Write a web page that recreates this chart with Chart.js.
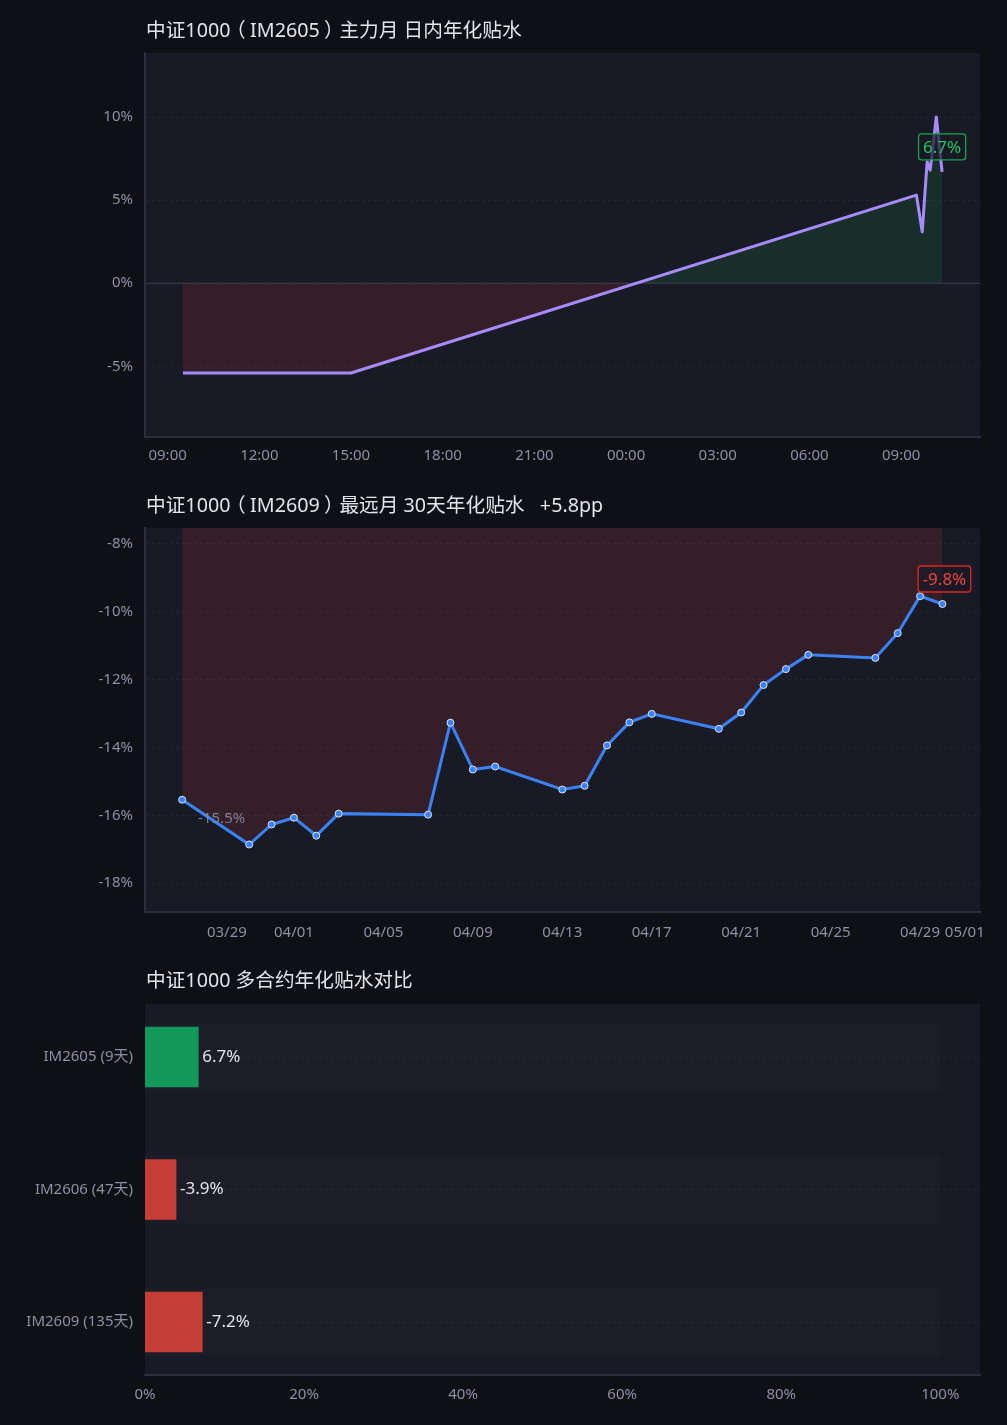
<!DOCTYPE html>
<html>
<head>
<meta charset="utf-8">
<title>中证1000 年化贴水</title>
<script src="https://cdn.jsdelivr.net/npm/chart.js"></script>
<style>
    body { margin: 0; background: #0f1015; width: 1007px; height: 1425px; overflow: hidden;
           font-family: "Noto Sans", "Noto Sans CJK SC", sans-serif; }
    .panel { position: relative; width: 1007px; height: 475px; }
    .panel h2 { position: absolute; left: 146px; top: 16px; margin: 0; font-size: 19.7px; font-weight: normal;
                color: #e2e4ea; white-space: pre; line-height: 28px; z-index: 2; }
    .po { position: relative; left: -0.22em; }
    .pc { position: relative; left: 0.22em; }
</style>
</head>
<body>
    <div class="panel"><h2>中证1000<span class="po">（</span>IM2605<span class="pc">）</span>主力月 日内年化贴水</h2><canvas id="intradayChart"></canvas></div>
    <div class="panel"><h2>中证1000<span class="po">（</span>IM2609<span class="pc">）</span>最远月 30天年化贴水   +5.8pp</h2><canvas id="farChart"></canvas></div>
    <div class="panel"><h2>中证1000 多合约年化贴水对比</h2><canvas id="compareChart"></canvas></div>
<script>
    // 主力月 日内 (小时, 跨日 +24)
    var intradayHours = [9.5, 15, 33.5, 33.69, 33.85, 33.95, 34.15, 34.34];
    var intradayBasis = [-5.4, -5.4, 5.3, 3.1, 7.3, 6.8, 10.0, 6.7];
    var hourTicks = [9, 12, 15, 18, 21, 24, 27, 30, 33];
    var basisTicks = [-5, 0, 5, 10];

    // 最远月 30天
    var farDates = ['03/27', '03/30', '03/31', '04/01', '04/02', '04/03', '04/07', '04/08', '04/09', '04/10',
                    '04/13', '04/14', '04/15', '04/16', '04/17', '04/20', '04/21', '04/22', '04/23', '04/24',
                    '04/27', '04/28', '04/29', '04/30'];
    var farBasis = [-15.54, -16.86, -16.27, -16.07, -16.6, -15.95, -15.98, -13.27, -14.65, -14.56,
                    -15.24, -15.13, -13.94, -13.26, -13.01, -13.45, -12.97, -12.16, -11.69, -11.27,
                    -11.36, -10.63, -9.54, -9.77];
    var dateTicks = ['03/29', '04/01', '04/05', '04/09', '04/13', '04/17', '04/21', '04/25', '04/29', '05/01'];
    var farTicks = [-18, -16, -14, -12, -10, -8];

    // 多合约对比
    var contracts = ['IM2605 (9天)', 'IM2606 (47天)', 'IM2609 (135天)'];
    var contractBasis = [6.7, -3.9, -7.2];
    var pctTicks = [0, 20, 40, 60, 80, 100];

    var FONT = '"Noto Sans", "Noto Sans CJK SC", sans-serif';
    var TICK = '#8b90a4';
    var GRID = 'rgba(255,255,255,0.05)';
    var AXIS = '#2c2f3e';
    var GREEN = '#22c55e', RED = '#ef4444';

    Chart.defaults.font.family = FONT;
    Chart.defaults.font.size = 15;
    Chart.defaults.color = TICK;
    Chart.defaults.animation = false;

    function dayIndex(md) {
        var p = md.split('/');
        return (Date.UTC(2026, p[0] - 1, +p[1]) - Date.UTC(2026, 3, 1)) / 86400000;
    }
    function dayLabel(v) {
        var d = new Date(Date.UTC(2026, 3, 1) + v * 86400000);
        return String(d.getUTCMonth() + 1).padStart(2, '0') + '/' + String(d.getUTCDate()).padStart(2, '0');
    }
    function setTicks(values) {
        return function (scale) { scale.ticks = values.map(function (v) { return { value: v }; }); };
    }

    var plotBg = {
        id: 'plotBg',
        beforeDraw: function (chart) {
            var a = chart.chartArea, c = chart.ctx;
            c.save();
            c.fillStyle = '#181a25';
            c.fillRect(a.left, a.top, a.right - a.left, a.bottom - a.top);
            c.restore();
        }
    };

    var zeroLine = {
        id: 'zeroLine',
        beforeDatasetsDraw: function (chart, args, opts) {
            if (!opts.show) return;
            var a = chart.chartArea, c = chart.ctx, y = chart.scales.y.getPixelForValue(0);
            c.save();
            c.strokeStyle = '#3b3d4b';
            c.lineWidth = 1;
            c.beginPath(); c.moveTo(a.left, y); c.lineTo(a.right, y); c.stroke();
            c.restore();
        }
    };

    var pointLabels = {
        id: 'pointLabels',
        afterDatasetsDraw: function (chart, args, opts) {
            var meta = chart.getDatasetMeta(0), c = chart.ctx;
            (opts.items || []).forEach(function (it) {
                var el = meta.data[it.index];
                var x = el.x + (it.dx || 0), y = el.y + (it.dy || 0);
                c.save();
                c.font = (it.size || 17) + 'px ' + FONT;
                c.textAlign = it.align || 'center';
                c.textBaseline = 'middle';
                if (it.box) {
                    var w = c.measureText(it.text).width + 9, h = 26;
                    c.fillStyle = 'rgba(24,26,37,0.7)';
                    c.strokeStyle = it.box;
                    c.lineWidth = 1.3;
                    c.beginPath();
                    c.roundRect(x - w / 2, y - h / 2, w, h, 3);
                    c.fill(); c.stroke();
                }
                c.fillStyle = it.color;
                c.fillText(it.text, x, y + 1);
                c.restore();
            });
        }
    };

    var barValues = {
        id: 'barValues',
        afterDatasetsDraw: function (chart) {
            var meta = chart.getDatasetMeta(0), c = chart.ctx;
            c.save();
            c.font = '17px ' + FONT;
            c.fillStyle = '#e2e4ea';
            c.textAlign = 'left';
            c.textBaseline = 'middle';
            meta.data.forEach(function (bar, i) {
                c.fillText(contractBasis[i].toFixed(1) + '%', bar.x + 4, bar.y);
            });
            c.restore();
        }
    };

    function baseScales(xOpts, yOpts) {
        return {
            x: Object.assign({
                type: 'linear',
                grid: { display: false, drawTicks: false },
                border: { display: true, color: AXIS, width: 2 },
                ticks: { padding: 11, maxRotation: 0, autoSkip: false },
                afterFit: function (s) { s.height = 38; }
            }, xOpts),
            y: Object.assign({
                type: 'linear',
                grid: { color: GRID, drawTicks: false },
                border: { display: true, color: AXIS, width: 2, dash: [3, 3] },
                ticks: { padding: 12 },
                afterFit: function (s) { s.width = 145; }
            }, yOpts)
        };
    }

    // 1. 日内
    new Chart(document.getElementById('intradayChart'), {
        type: 'line',
        data: {
            datasets: [{
                data: intradayHours.map(function (h, i) { return { x: h, y: intradayBasis[i] }; }),
                borderColor: '#a78bfa',
                borderWidth: 3,
                pointRadius: 0,
                tension: 0,
                borderJoinStyle: 'round',
                fill: { target: { value: 0 }, above: 'rgba(34,197,94,0.12)', below: 'rgba(239,68,68,0.135)' }
            }]
        },
        options: {
            responsive: true,
            maintainAspectRatio: false,
            layout: { padding: { top: 53, right: 27, left: 0, bottom: 0 } },
            plugins: {
                legend: { display: false },
                tooltip: { enabled: false },
                zeroLine: { show: true },
                pointLabels: { items: [{ index: intradayBasis.length - 1, text: intradayBasis[intradayBasis.length - 1].toFixed(1) + '%',
                                         color: GREEN, box: '#16a34a', dx: 0, dy: -25 }] }
            },
            scales: baseScales({
                min: 8.26, max: 35.58,
                afterBuildTicks: setTicks(hourTicks),
                ticks: { padding: 10, maxRotation: 0, autoSkip: false,
                         callback: function (v) { return String(v % 24).padStart(2, '0') + ':00'; } }
            }, {
                min: -9.25, max: 13.85,
                afterBuildTicks: setTicks(basisTicks),
                ticks: { padding: 12, callback: function (v) { return v + '%'; } }
            })
        },
        plugins: [plotBg, zeroLine, pointLabels]
    });

    // 2. 最远月
    new Chart(document.getElementById('farChart'), {
        type: 'line',
        data: {
            datasets: [{
                data: farDates.map(function (d, i) { return { x: dayIndex(d), y: farBasis[i] }; }),
                borderColor: '#3b82f6',
                borderWidth: 3,
                pointRadius: 3.5,
                pointBackgroundColor: '#3b82f6',
                pointBorderColor: '#dbe4f5',
                pointBorderWidth: 1,
                fill: { target: { value: 0 }, above: 'rgba(34,197,94,0.12)', below: 'rgba(239,68,68,0.135)' }
            }]
        },
        options: {
            responsive: true,
            maintainAspectRatio: false,
            layout: { padding: { top: 53, right: 27, left: 0, bottom: 0 } },
            plugins: {
                legend: { display: false },
                tooltip: { enabled: false },
                pointLabels: { items: [
                    { index: 0, text: farBasis[0].toFixed(1) + '%', color: 'rgba(139,144,164,0.85)', size: 15, align: 'left', dx: 16, dy: 18 },
                    { index: farBasis.length - 1, text: farBasis[farBasis.length - 1].toFixed(1) + '%', color: RED, box: '#dc2626', dx: 2, dy: -25 }
                ] }
            },
            scales: baseScales({
                min: -6.66, max: 30.68,
                afterBuildTicks: setTicks(dateTicks.map(dayIndex)),
                ticks: { padding: 12, maxRotation: 0, autoSkip: false, callback: function (v) { return dayLabel(v); } }
            }, {
                min: -18.85, max: -7.53,
                afterBuildTicks: setTicks(farTicks),
                ticks: { padding: 12, callback: function (v) { return v + '%'; } }
            })
        },
        plugins: [plotBg, pointLabels]
    });

    // 3. 多合约对比
    var compareScales = baseScales({
        min: 0, max: 105,
        afterBuildTicks: setTicks(pctTicks),
        ticks: { padding: 11, maxRotation: 0, autoSkip: false, callback: function (v) { return v + '%'; } },
        afterFit: function (s) { s.height = 50; }
    }, {
        min: -0.4, max: 2.4, reverse: true, offset: false,
        afterBuildTicks: setTicks(contracts.map(function (c, i) { return i; })),
        grid: { color: GRID, drawTicks: false, offset: false },
        border: { display: false, dash: [3, 3] },
        ticks: { padding: 12, callback: function (v) { return contracts[v]; } }
    });

    new Chart(document.getElementById('compareChart'), {
        type: 'bar',
        data: {
            datasets: [{
                data: contractBasis.map(function (v, i) { return { x: Math.abs(v), y: i }; }),
                backgroundColor: contractBasis.map(function (v) { return v >= 0 ? '#14995c' : '#c73e36'; }),
                barThickness: 60,
                grouped: false
            }, {
                data: contracts.map(function (c, i) { return { x: 100, y: i }; }),
                backgroundColor: 'rgba(255,255,255,0.014)',
                barThickness: 68,
                grouped: false
            }]
        },
        options: {
            indexAxis: 'y',
            responsive: true,
            maintainAspectRatio: false,
            layout: { padding: { top: 54, right: 27, left: 0, bottom: 0 } },
            plugins: { legend: { display: false }, tooltip: { enabled: false } },
            scales: compareScales
        },
        plugins: [plotBg, barValues]
    });
</script>
</body>
</html>
